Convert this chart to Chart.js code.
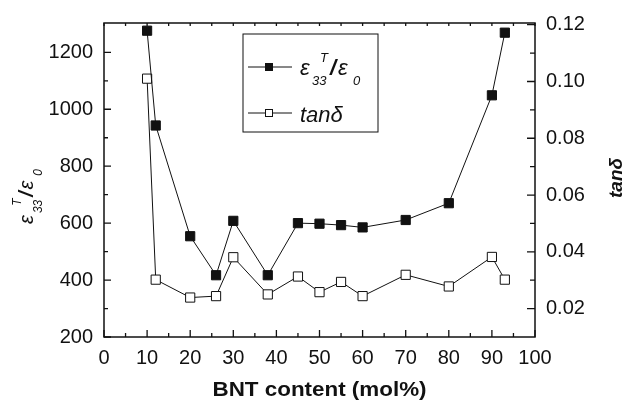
<!DOCTYPE html>
<html>
<head>
<meta charset="utf-8">
<script src="https://cdn.jsdelivr.net/npm/chart.js@4.4.0/dist/chart.umd.min.js"></script>
<style>
html, body { margin: 0; padding: 0; background: #fff; }
#wrap { width: 625px; height: 402px; }
</style>
</head>
<body>
<div id="wrap"><canvas id="myChart" width="625" height="402"></canvas></div>
<script>
// BNT content (mol%)
var bntContent = [10, 12, 20, 26, 30, 38, 45, 50, 55, 60, 70, 80, 90, 93];
// eps33T/eps0 (left axis)
var permittivity = [1276, 943, 554, 417, 608, 417, 600, 598, 593, 585, 611, 670, 1049, 1269];
// tan delta (right axis)
var lossTangent = [0.101, 0.0302, 0.0239, 0.0244, 0.0381, 0.025, 0.0313, 0.0258, 0.0294, 0.0244, 0.0319, 0.0278, 0.0382, 0.0302];

var xTicks = [0, 10, 20, 30, 40, 50, 60, 70, 80, 90, 100];
var leftTicks = [200, 400, 600, 800, 1000, 1200];
var rightTicks = [0.02, 0.04, 0.06, 0.08, 0.10, 0.12];

var xMinor = [], leftMinor = [], rightMinor = [];
for (var i = 5; i < 100; i += 10) xMinor.push(i);
for (var i = 300; i <= 1100; i += 200) leftMinor.push(i);
for (var i = 3; i <= 11; i += 2) rightMinor.push(i / 100);

var FONT = "'Liberation Sans', Arial, Helvetica, sans-serif";
Chart.defaults.font.family = FONT;
Chart.defaults.color = '#111';

function setTicks(list) {
    return function(scale) {
        scale.ticks = list.map(function(v) { return { value: v }; });
    };
}

// draw text pieces (subscripts etc) relative to the current origin
function drawRuns(ctx, runs) {
    runs.forEach(function(r) {
        ctx.font = r.font;
        ctx.fillText(r.t, r.dx, r.dy);
    });
}

function epsRuns(big, small) {
    var k = big / 22;
    return [
        { t: 'ε', font: 'italic ' + big + 'px ' + FONT, dx: 0, dy: 0 },
        { t: '33', font: 'italic ' + small + 'px ' + FONT, dx: 12 * k, dy: 10 * k },
        { t: 'T', font: 'italic ' + small + 'px ' + FONT, dx: 20 * k, dy: -13 * k },
        { t: '/', font: 'bold italic ' + big + 'px ' + FONT, dx: 30 * k, dy: 0 },
        { t: 'ε', font: 'italic ' + big + 'px ' + FONT, dx: 38 * k, dy: 0 },
        { t: '0', font: 'italic ' + small + 'px ' + FONT, dx: 53 * k, dy: 10 * k }
    ];
}

var frameAndTicks = {
    id: 'frameAndTicks',
    afterDraw: function(chart) {
        var ctx = chart.ctx;
        var a = chart.chartArea;
        var sx = chart.scales.x, sy = chart.scales.y, sr = chart.scales.y1;
        ctx.save();
        ctx.strokeStyle = '#111';
        ctx.lineWidth = 1.5;
        ctx.strokeRect(a.left, a.top, a.right - a.left, a.bottom - a.top);

        ctx.lineWidth = 1.3;
        ctx.beginPath();
        xTicks.forEach(function(v) {
            var p = sx.getPixelForValue(v);
            ctx.moveTo(p, a.bottom); ctx.lineTo(p, a.bottom - 7);
            ctx.moveTo(p, a.top); ctx.lineTo(p, a.top + 3);
        });
        xMinor.forEach(function(v) {
            var p = sx.getPixelForValue(v);
            ctx.moveTo(p, a.bottom); ctx.lineTo(p, a.bottom - 4);
            ctx.moveTo(p, a.top); ctx.lineTo(p, a.top + 3);
        });
        leftTicks.forEach(function(v) {
            var p = sy.getPixelForValue(v);
            ctx.moveTo(a.left, p); ctx.lineTo(a.left + 7, p);
        });
        leftMinor.forEach(function(v) {
            var p = sy.getPixelForValue(v);
            ctx.moveTo(a.left, p); ctx.lineTo(a.left + 4, p);
        });
        rightTicks.forEach(function(v) {
            var p = sr.getPixelForValue(v);
            ctx.moveTo(a.right, p); ctx.lineTo(a.right - 8, p);
        });
        rightMinor.forEach(function(v) {
            var p = sr.getPixelForValue(v);
            ctx.moveTo(a.right, p); ctx.lineTo(a.right - 5, p);
        });
        ctx.stroke();

        // legend box
        ctx.lineWidth = 1;
        ctx.strokeRect(243, 34, 135, 98);
        ctx.beginPath();
        ctx.moveTo(248, 67); ctx.lineTo(292, 67);
        ctx.moveTo(248, 113); ctx.lineTo(292, 113);
        ctx.stroke();
        ctx.fillStyle = '#111';
        ctx.fillRect(265, 63, 8, 8);
        ctx.fillStyle = '#fff';
        ctx.fillRect(265, 109, 8, 8);
        ctx.strokeRect(265.5, 109.5, 7, 7);

        ctx.fillStyle = '#111';
        ctx.textBaseline = 'alphabetic';
        ctx.textAlign = 'left';
        ctx.save();
        ctx.translate(300, 75);
        drawRuns(ctx, epsRuns(22, 13));
        ctx.restore();
        ctx.font = 'italic 22px ' + FONT;
        ctx.fillText('tanδ', 300, 122);

        // axis titles
        ctx.save();
        ctx.translate(33, 224);
        ctx.rotate(-Math.PI / 2);
        drawRuns(ctx, epsRuns(20, 12));
        ctx.restore();

        ctx.save();
        ctx.translate(622, 198);
        ctx.rotate(-Math.PI / 2);
        ctx.font = 'bold italic 19px ' + FONT;
        ctx.fillText('tanδ', 0, 0);
        ctx.restore();

        ctx.save();
        ctx.translate((a.left + a.right) / 2, 396);
        ctx.scale(1.12, 1);
        ctx.textAlign = 'center';
        ctx.font = 'bold 20px ' + FONT;
        ctx.fillText('BNT content (mol%)', 0, 0);
        ctx.restore();

        ctx.restore();
    }
};

var ctx = document.getElementById('myChart').getContext('2d');
var myChart = new Chart(ctx, {
    type: 'line',
    data: {
        datasets: [{
            label: 'ε33T/ε0',
            data: bntContent.map(function(x, i) { return { x: x, y: permittivity[i] }; }),
            yAxisID: 'y',
            borderColor: '#111',
            borderWidth: 1,
            pointStyle: 'rect',
            pointRadius: 6.5,
            pointBorderWidth: 1,
            pointBackgroundColor: '#111',
            pointBorderColor: '#111',
            tension: 0
        }, {
            label: 'tanδ',
            data: bntContent.map(function(x, i) { return { x: x, y: lossTangent[i] }; }),
            yAxisID: 'y1',
            borderColor: '#111',
            borderWidth: 1,
            pointStyle: 'rect',
            pointRadius: 6.5,
            pointBorderWidth: 1,
            pointBackgroundColor: '#fff',
            pointBorderColor: '#111',
            tension: 0
        }]
    },
    options: {
        responsive: false,
        animation: false,
        layout: { padding: { top: 16 } },
        plugins: { legend: { display: false }, tooltip: { enabled: false } },
        scales: {
            x: {
                type: 'linear',
                min: 0, max: 100,
                grid: { display: false, drawTicks: false },
                border: { display: false },
                ticks: { font: { size: 20 }, padding: 9, maxRotation: 0 },
                afterBuildTicks: setTicks(xTicks),
                afterFit: function(s) { s.height = 65; }
            },
            y: {
                position: 'left',
                min: 200, max: 1303,
                grid: { display: false, drawTicks: false },
                border: { display: false },
                ticks: {
                    font: { size: 20 }, padding: 11,
                    callback: function(v) { return String(v); }
                },
                afterBuildTicks: setTicks(leftTicks),
                afterFit: function(s) { s.width = 104; }
            },
            y1: {
                position: 'right',
                min: 0.01, max: 0.1206,
                grid: { display: false, drawTicks: false },
                border: { display: false },
                ticks: {
                    font: { size: 20 }, padding: 11,
                    callback: function(v) { return v.toFixed(2); }
                },
                afterBuildTicks: setTicks(rightTicks),
                afterFit: function(s) { s.width = 90; }
            }
        }
    },
    plugins: [frameAndTicks]
});
</script>
</body>
</html>
